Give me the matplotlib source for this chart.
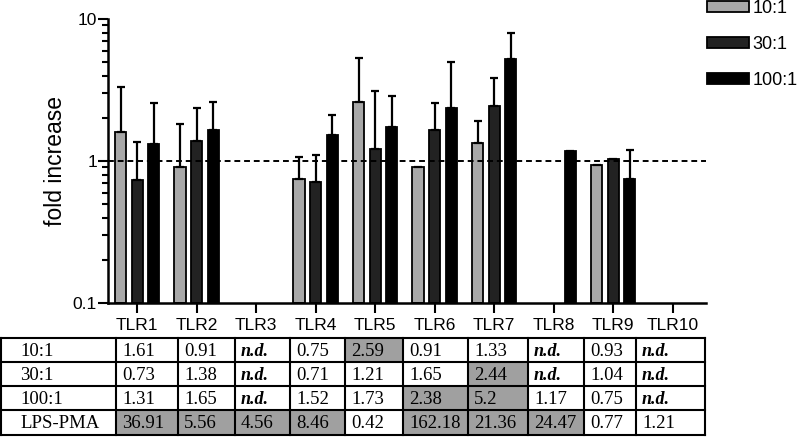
import numpy as np
import matplotlib.pyplot as plt
from matplotlib.patches import Rectangle

plt.rcParams['font.family'] = ['Liberation Sans', 'DejaVu Sans']

tlrs = ['TLR1', 'TLR2', 'TLR3', 'TLR4', 'TLR5', 'TLR6', 'TLR7', 'TLR8', 'TLR9', 'TLR10']
series = ['10:1', '30:1', '100:1']
nd = np.nan

vals_10 = [1.61, 0.91, nd, 0.75, 2.59, 0.91, 1.33, nd, 0.93, nd]
vals_30 = [0.73, 1.38, nd, 0.71, 1.21, 1.65, 2.44, nd, 1.04, nd]
vals_100 = [1.31, 1.65, nd, 1.52, 1.73, 2.38, 5.2, 1.17, 0.75, nd]

# upper error bars only
err_10 = [1.71, 0.91, 0, 0.32, 2.72, 0, 0.57, 0, 0, 0]
err_30 = [0.63, 0.99, 0, 0.40, 1.92, 0.90, 1.40, 0, 0, 0]
err_100 = [1.25, 0.97, 0, 0.59, 1.13, 2.60, 2.77, 0, 0.44, 0]

row_labels = ['10:1', '30:1', '100:1', 'LPS-PMA']
table_rows = [
    ['1.61', '0.91', 'n.d.', '0.75', '2.59', '0.91', '1.33', 'n.d.', '0.93', 'n.d.'],
    ['0.73', '1.38', 'n.d.', '0.71', '1.21', '1.65', '2.44', 'n.d.', '1.04', 'n.d.'],
    ['1.31', '1.65', 'n.d.', '1.52', '1.73', '2.38', '5.2', '1.17', '0.75', 'n.d.'],
    ['36.91', '5.56', '4.56', '8.46', '0.42', '162.18', '21.36', '24.47', '0.77', '1.21'],
]
shaded = [
    [0, 0, 0, 0, 1, 0, 0, 0, 0, 0],
    [0, 0, 0, 0, 0, 0, 1, 0, 0, 0],
    [0, 0, 0, 0, 0, 1, 1, 0, 0, 0],
    [1, 1, 1, 1, 0, 1, 1, 1, 0, 0],
]

colors = ['#a8a8a8', '#222222', '#000000']

W, H = 800, 437
fig = plt.figure(figsize=(8, 4.37), dpi=100)
ax = fig.add_axes([108 / W, 1 - 303 / H, 598 / W, 284 / H])

x = np.arange(len(tlrs))
off = 0.278
bw = 0.19
base = 0.1
handles = []
for i, (v, e) in enumerate(zip([vals_10, vals_30, vals_100], [err_10, err_30, err_100])):
    v = np.array(v)
    e = np.array(e)
    yerr = [np.zeros_like(e), np.where(e > 0, e, np.nan)]
    b = ax.bar(x + (i - 1) * off, v - base, bw, bottom=base, color=colors[i], edgecolor='black',
               linewidth=1.3, label=series[i])
    ax.errorbar(x + (i - 1) * off, v, yerr=yerr, fmt='none', ecolor='black',
                elinewidth=1.6, capsize=3, capthick=1.6)
    handles.append(b)

ax.axhline(1, color='black', lw=1.4, ls=(0, (3, 2)))
ax.set_yscale('log')
ax.set_ylim(0.1, 10)
ax.set_xlim(-0.49, 9.56)
ax.set_yticks([0.1, 1, 10])
ax.set_yticklabels(['0.1', '1', '10'])
ax.set_xticks(x)
ax.set_xticklabels(tlrs)
ax.tick_params(axis='both', labelsize=12.5, width=1.5, length=7, direction='out')
ax.tick_params(axis='y', which='minor', width=1.5, length=4)
ax.tick_params(axis='y', pad=1)
ax.set_ylabel('fold increase', fontsize=16.5, labelpad=4)
for s in ['top', 'right']:
    ax.spines[s].set_visible(False)
for s in ['left', 'bottom']:
    ax.spines[s].set_linewidth(1.8)

fig.legend(handles=handles, labels=series, loc='upper left', bbox_to_anchor=(707 / W, 1.0),
           frameon=False, fontsize=13, handlelength=2.3, handleheight=0.55,
           labelspacing=1.05, handletextpad=0.2, borderpad=0, borderaxespad=0)

# table under the chart
col_edges = [1, 116, 178, 235, 290, 345, 403, 468, 528, 584, 636, 705]
row_edges = [338, 362, 386, 410, 435]
tax = fig.add_axes([0, 0, 1, 1])
tax.set_xlim(0, W)
tax.set_ylim(H, 0)
tax.axis('off')
for r in range(4):
    y0, y1 = row_edges[r], row_edges[r + 1]
    tax.text(col_edges[0] + 19, (y0 + y1) / 2 + 1, row_labels[r], family='Liberation Serif',
             fontsize=13.5, va='center', ha='left')
    for c in range(len(tlrs)):
        xa, xb = col_edges[c + 1], col_edges[c + 2]
        fc = '#a0a0a0' if shaded[r][c] else 'white'
        tax.add_patch(Rectangle((xa, y0), xb - xa, y1 - y0, facecolor=fc, edgecolor='none'))
        txt = table_rows[r][c]
        if txt == 'n.d.':
            tax.text(xa + 6, (y0 + y1) / 2 + 1, txt, family='Liberation Serif', fontsize=13,
                     style='italic', weight='bold', va='center', ha='left')
        else:
            tax.text(xa + 6, (y0 + y1) / 2 + 1, txt, family='Liberation Serif', fontsize=13.5,
                     va='center', ha='left')
for xe in col_edges:
    tax.plot([xe, xe], [row_edges[0], row_edges[-1]], color='black', lw=1.5)
for ye in row_edges:
    tax.plot([col_edges[0], col_edges[-1]], [ye, ye], color='black', lw=1.5)

fig.savefig('out.png', dpi=100)
